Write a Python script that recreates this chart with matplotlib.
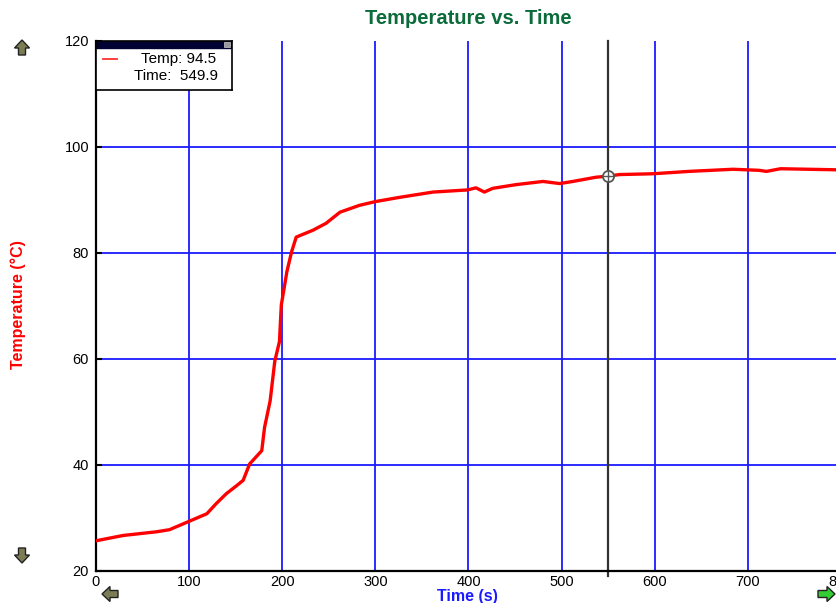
import matplotlib
matplotlib.use("Agg")
import matplotlib.pyplot as plt
from matplotlib.patches import FancyArrow, Rectangle

plt.rcParams['font.family'] = ['Liberation Sans', 'DejaVu Sans']

# leituras do grafico (tempo em s, temperatura em C)
tempo = [0, 29, 65, 79, 99, 119, 129, 140, 151, 158, 165, 178, 181, 187, 192, 197, 199,
         205, 210, 215, 233, 247, 262, 283, 300, 326, 362, 399, 408, 417, 426, 451, 480,
         498, 512, 537, 550, 562, 598, 637, 684, 712, 720, 735, 795, 840]
temperatura = [25.7, 26.7, 27.4, 27.8, 29.3, 30.8, 32.7, 34.6, 36.1, 37.1, 40.2, 42.7, 47.1,
               52.1, 59.6, 63.3, 70.2, 76.5, 80.2, 83.0, 84.3, 85.6, 87.7, 89.0, 89.7, 90.5,
               91.5, 91.9, 92.3, 91.5, 92.2, 92.9, 93.5, 93.1, 93.5, 94.3, 94.5, 94.8, 94.95,
               95.4, 95.8, 95.6, 95.4, 95.9, 95.7, 95.7]

xticks = [0, 100, 200, 300, 400, 500, 600, 700, 800]
xlabels = ["0", "100", "200", "300", "400", "500", "600", "700", "800"]
yticks = [20, 40, 60, 80, 100, 120]

cursorTempo = 549.9
cursorTemp = 94.5

W, H = 837, 603
fig = plt.figure(figsize=(W / 100, H / 100), dpi=100)
ax = fig.add_axes([96 / W, 1 - 571 / H, 745 / W, 530 / H])

for x in xticks[1:-1]:
    ax.axvline(x, color="#1a1aff", lw=1.3, zorder=1)
for y in yticks[1:-1]:
    ax.axhline(y, color="#1a1aff", lw=1.3, zorder=1)

ax.plot(tempo, temperatura, color="#ff0000", lw=2.4, zorder=3)

# cursor
ax.axvline(cursorTempo, color="#333333", lw=1.6, zorder=2, ymin=-0.01, clip_on=False)
ax.plot([cursorTempo], [cursorTemp], marker="o", ms=8, mfc="white", mec="#555555", mew=1.3, zorder=4)
ax.plot([cursorTempo], [cursorTemp], marker="+", ms=8, color="#555555", mew=1.0, zorder=5)

ax.set_xlim(0, 800)
ax.set_ylim(20, 120)
ax.set_xticks(xticks)
ax.set_xticklabels(xlabels)
ax.set_yticks(yticks)
ax.tick_params(axis="x", length=0, pad=3, labelsize=10.5)
ax.tick_params(axis="y", direction="in", length=4, width=1.5, pad=5, labelsize=10.5)
ax.spines["top"].set_visible(False)
ax.spines["right"].set_visible(False)
ax.spines["left"].set_linewidth(1.6)
ax.spines["bottom"].set_linewidth(1.6)

fig.text(468 / W, 1 - 19 / H, "Temperature vs. Time", color="#0b6b3a",
         fontweight="bold", fontsize=14.5, ha="center", va="center")
fig.text(18 / W, 1 - 305 / H, "Temperature (°C)", color="#ff0000", fontweight="bold",
         fontsize=11.5, rotation=90, ha="center", va="center")
fig.text(467 / W, 1 - 597 / H, "Time (s)", color="#1a1aff", fontweight="bold",
         fontsize=11.5, ha="center", va="center")

# caixa de leitura do cursor
lg = fig.add_axes([96 / W, 1 - 90 / H, 136 / W, 49 / H])
lg.set_xlim(0, 136)
lg.set_ylim(49, 0)
lg.set_xticks([])
lg.set_yticks([])
for s in lg.spines.values():
    s.set_linewidth(1.2)
lg.add_patch(Rectangle((0, 0), 136, 7, color="#000033"))
lg.add_patch(Rectangle((128, 1), 6, 5, facecolor="#999999", edgecolor="#cccccc", lw=0.5))
lg.plot([7, 21], [18, 18], color="#ff3030", lw=1.3)
lg.text(120, 18, f"Temp: {cursorTemp}", fontsize=11, ha="right", va="center")
lg.text(122, 35, f"Time:  {cursorTempo}", fontsize=11, ha="right", va="center")

# setas de navegacao
tr = fig.dpi_scale_trans
seta = dict(transform=tr, facecolor="#7d7d55", edgecolor="#222222", lw=1.0,
            length_includes_head=True)
fig.add_artist(FancyArrow(0.22, 5.48, 0, 0.15, width=0.07, head_width=0.15, head_length=0.08, **seta))
fig.add_artist(FancyArrow(0.22, 0.55, 0, -0.15, width=0.07, head_width=0.15, head_length=0.08, **seta))
fig.add_artist(FancyArrow(1.18, 0.09, -0.16, 0, width=0.07, head_width=0.15, head_length=0.08, **seta))
fig.add_artist(FancyArrow(8.18, 0.09, 0.17, 0, width=0.07, head_width=0.15, head_length=0.08,
                          transform=tr, facecolor="#33cc33", edgecolor="#222222", lw=1.0,
                          length_includes_head=True))

fig.savefig("out.png", dpi=100)
